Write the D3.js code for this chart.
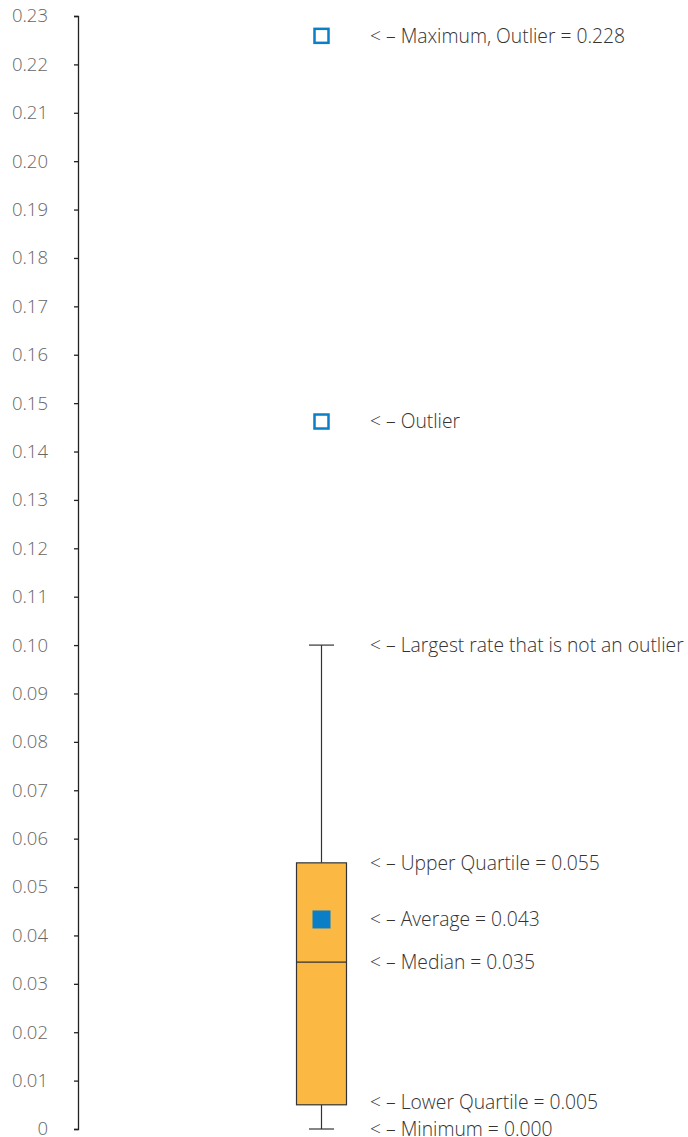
<!DOCTYPE html>
<html>
<head>
<meta charset="utf-8">
<script src="https://cdn.jsdelivr.net/npm/d3@7"></script>
<style>
  body { margin: 0; background: #fff; }
  text { font-family: "Open Sans", sans-serif; font-weight: 300; }
</style>
</head>
<body>
<div id="chart"></div>
<script>
// box stats
const boxStats = [{lower: 0.005, median: 0.0345, upper: 0.055, whiskerLow: 0.000, whiskerHigh: 0.100, mean: 0.0433}]
const outliers = [0.2259, 0.1462]
const notes = [
  {value: 0.2259, text: '< – Maximum, Outlier = 0.228'},
  {value: 0.1462, text: '< – Outlier'},
  {value: 0.100, text: '< – Largest rate that is not an outlier'},
  {value: 0.055, text: '< – Upper Quartile = 0.055'},
  {value: 0.0433, text: '< – Average = 0.043'},
  {value: 0.0345, text: '< – Median = 0.035'},
  {value: 0.0055, text: '< – Lower Quartile = 0.005'},
  {value: 0.000, text: '< – Minimum = 0.000'}
]
const tickValues = d3.range(0, 24).map(d => d / 100)

const width = 688, height = 1137
const y = d3.scaleLinear().domain([0, 0.23]).range([1129, 16])
const cx = 321.5

const svg = d3.select('#chart').append('svg')
  .attr('width', width)
  .attr('height', height)

const axis = svg.append('g')
  .attr('transform', 'translate(78,0)')
  .call(d3.axisLeft(y).tickValues(tickValues).tickSize(4).tickPadding(26)
    .tickFormat(d => d === 0 ? '0' : d3.format('.2f')(d)))
axis.select('.domain').attr('stroke', '#222').attr('stroke-width', 1.3)
axis.selectAll('.tick line').attr('stroke', '#222').attr('stroke-width', 1.3)
axis.selectAll('.tick text')
  .attr('fill', '#666')
  .attr('dy', '0.32em')
  .style('font-size', '18.5px')
  .style('font-family', '"Open Sans", sans-serif')
  .style('font-weight', 300)

const box = svg.append('g')
boxStats.forEach(s => {
  // whiskers
  box.append('line').attr('x1', cx).attr('x2', cx)
    .attr('y1', y(s.whiskerHigh)).attr('y2', y(s.upper))
    .attr('stroke', '#333').attr('stroke-width', 1.2)
  box.append('line').attr('x1', cx).attr('x2', cx)
    .attr('y1', y(s.lower)).attr('y2', y(s.whiskerLow))
    .attr('stroke', '#333').attr('stroke-width', 1.2)
  ;[s.whiskerHigh, s.whiskerLow].forEach(v => {
    box.append('line').attr('x1', cx - 12.5).attr('x2', cx + 12.5)
      .attr('y1', y(v)).attr('y2', y(v))
      .attr('stroke', '#333').attr('stroke-width', 1.2)
  })
  box.append('rect')
    .attr('x', cx - 25).attr('width', 50)
    .attr('y', y(s.upper)).attr('height', y(s.lower) - y(s.upper))
    .attr('fill', '#fbb843').attr('stroke', '#333').attr('stroke-width', 1.2)
  box.append('line').attr('x1', cx - 25).attr('x2', cx + 25)
    .attr('y1', y(s.median)).attr('y2', y(s.median))
    .attr('stroke', '#333').attr('stroke-width', 1.2)
  box.append('rect')
    .attr('x', cx - 9).attr('y', y(s.mean) - 9)
    .attr('width', 18).attr('height', 18)
    .attr('fill', '#0a7fc8')
})

svg.selectAll('.outlier').data(outliers).enter().append('rect')
  .attr('class', 'outlier')
  .attr('x', cx - 7).attr('y', d => y(d) - 7)
  .attr('width', 14).attr('height', 14)
  .attr('fill', '#fff').attr('stroke', '#0a7fc8').attr('stroke-width', 2.5)

svg.selectAll('.note').data(notes).enter().append('text')
  .attr('class', 'note')
  .attr('x', 370)
  .attr('y', d => y(d.value))
  .attr('dy', '0.36em')
  .attr('fill', '#333')
  .style('font-size', '19.3px')
  .text(d => d.text)
</script>
</body>
</html>
